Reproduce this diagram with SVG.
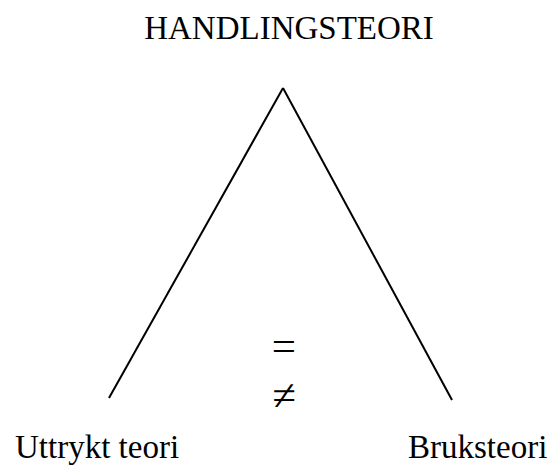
<svg xmlns="http://www.w3.org/2000/svg" width="553" height="466" viewBox="0 0 553 466">
<style>
text{font-family:"Liberation Serif","Times New Roman",serif;fill:#000;font-size:33px}
text.rel{font-size:43px}
.l{stroke:#000;stroke-width:2;fill:none}
</style>
<rect width="553" height="466" fill="#fff"/>
<g id="title"><text x="289" y="39" text-anchor="middle">HANDLINGSTEORI</text></g>
<g id="connectors">
<line class="l" x1="283" y1="88" x2="109" y2="398"/>
<line class="l" x1="283" y1="88" x2="452" y2="400"/>
</g>
<g id="relations">
<text class="rel" x="284" y="360" text-anchor="middle">=</text>
<text class="rel" x="284" y="410" text-anchor="middle">≠</text>
</g>
<g id="uttrykt"><text x="15" y="458">Uttrykt teori</text></g>
<g id="bruk"><text x="408" y="458">Bruksteori</text></g>
</svg>
